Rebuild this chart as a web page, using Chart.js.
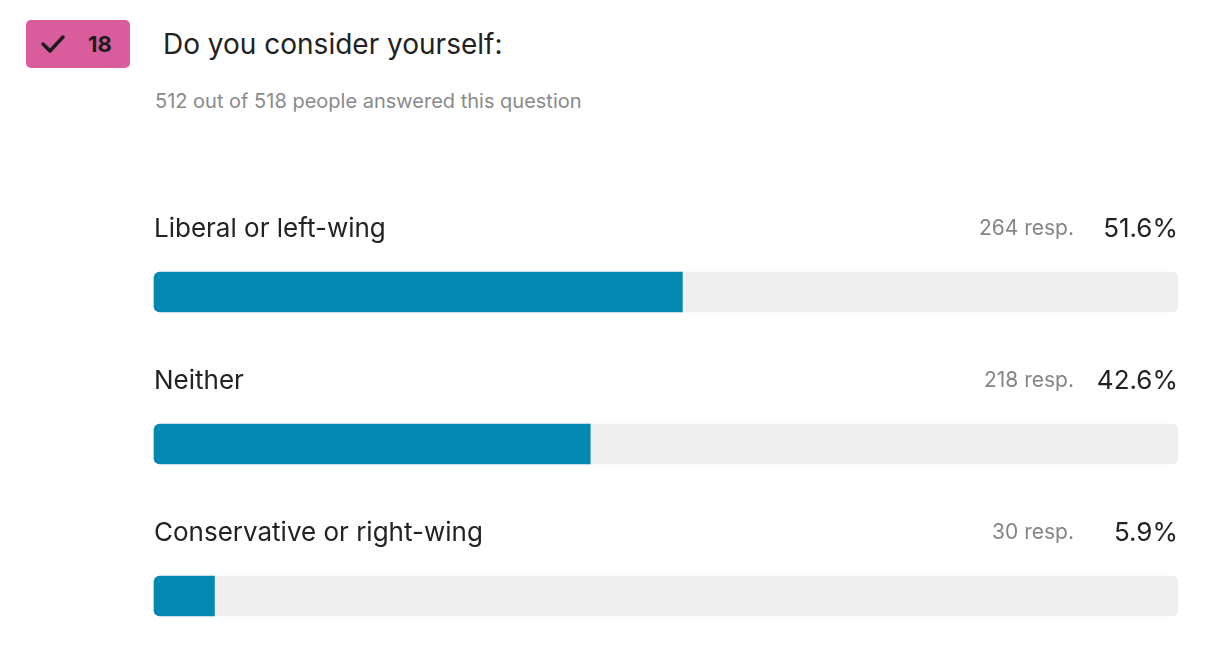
<!DOCTYPE html>
<html>
<head>
<meta charset="utf-8">
<script src="https://cdn.jsdelivr.net/npm/chart.js@4"></script>
<style>
  html, body { margin: 0; padding: 0; background: #fff; overflow: hidden; width: 1214px; height: 662px; font-family: Inter, "Noto Sans", sans-serif; }
  .badge { position: absolute; left: 26px; top: 20px; width: 104px; height: 48px; background: #d95c9c; border-radius: 5px; color: #1c1c1c; }
  .badge svg { position: absolute; left: 14px; top: 13px; }
  .badge span { position: absolute; left: 62px; top: 11px; font-size: 22px; font-weight: 700; }
  .title { position: absolute; left: 163px; top: 27px; font-size: 28px; color: #222; }
  .sub { position: absolute; left: 155px; top: 89px; font-size: 20px; color: #8a8a8a; }
  #wrap { position: absolute; left: 0; top: 0; width: 1214px; height: 662px; }
</style>
</head>
<body>
<div class="badge">
  <svg width="26" height="22" viewBox="0 0 26 22"><path d="M3 11 L10 18 L23 4" fill="none" stroke="#1c1c1c" stroke-width="3.5" stroke-linecap="round" stroke-linejoin="round"/></svg>
  <span>18</span>
</div>
<div class="title">Do you consider yourself:</div>
<div class="sub">512 out of 518 people answered this question</div>
<div id="wrap"><canvas id="grafico"></canvas></div>
<script>
// Dados
const categories = ["Liberal or left-wing", "Neither", "Conservative or right-wing"];
const responses = [264, 218, 30];
const percents = [51.6, 42.6, 5.9];
const track = [100, 100, 100];

// Textos acima das barras
const labelsPlugin = {
  id: "labels",
  afterDatasetsDraw(chart) {
    const ctx = chart.ctx;
    const y = chart.scales.y;
    const area = chart.chartArea;
    ctx.save();
    ctx.textBaseline = "middle";
    categories.forEach((cat, i) => {
      const yy = y.getPixelForValue(i) - 63;
      ctx.fillStyle = "#222";
      ctx.font = "26px Inter, 'Noto Sans', sans-serif";
      ctx.textAlign = "left";
      ctx.fillText(cat, area.left, yy);
      ctx.textAlign = "right";
      ctx.fillText(percents[i].toFixed(1) + "%", area.right, yy);
      ctx.fillStyle = "#858585";
      ctx.font = "21px Inter, 'Noto Sans', sans-serif";
      ctx.fillText(responses[i] + " resp.", area.right - 104, yy);
    });
    ctx.restore();
  }
};

new Chart(document.getElementById("grafico"), {
  type: "bar",
  data: {
    labels: categories,
    datasets: [
      {
        data: percents,
        backgroundColor: "#0388b1",
        borderRadius: { topLeft: 6, bottomLeft: 6, topRight: 0, bottomRight: 0 },
        borderSkipped: false,
        barThickness: 40,
        grouped: false,
        clip: false
      },
      {
        data: track,
        backgroundColor: "#efefef",
        borderRadius: 6,
        borderSkipped: false,
        barThickness: 40,
        grouped: false,
        clip: false
      }
    ]
  },
  options: {
    indexAxis: "y",
    responsive: true,
    maintainAspectRatio: false,
    animation: false,
    layout: { padding: { left: 154, right: 36, top: 292, bottom: 66 } },
    plugins: { legend: { display: false }, tooltip: { enabled: false } },
    scales: {
      x: { min: 0, max: 100, display: false },
      y: { display: false, offset: false }
    }
  },
  plugins: [labelsPlugin]
});
</script>
</body>
</html>
